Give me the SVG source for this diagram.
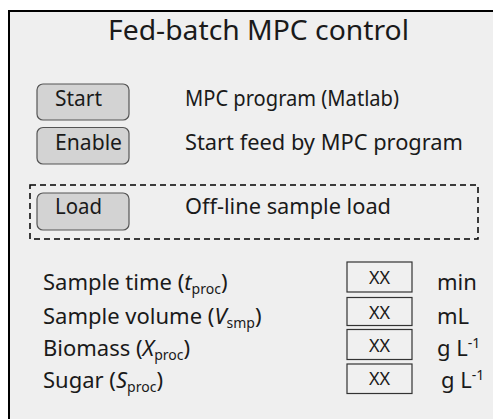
<svg xmlns="http://www.w3.org/2000/svg" width="493" height="419" viewBox="0 0 493 419">
<style>
  text { font-family: "Noto Sans", "Open Sans", sans-serif; fill: #1a1a1a; }
  .title { font-size: 28px; }
  .body { font-size: 22px; }
  .lbl { font-size: 22px; }
  .sub { font-size: 14px; }
  .xx { font-size: 18px; text-anchor: middle; }
  .btn { fill: #d3d3d3; stroke: #555; stroke-width: 1.2; }
  .box { fill: #f0f0f0; stroke: #333; stroke-width: 1.2; }
  .it { font-style: italic; }
</style>
<rect x="0" y="0" width="493" height="419" fill="#ffffff"/>
<rect id="panel" x="9" y="11" width="500" height="430" fill="#efefef" stroke="#000" stroke-width="2"/>
<g id="title"><text class="title" x="108" y="39.5" textLength="301" lengthAdjust="spacingAndGlyphs">Fed-batch MPC control</text></g>
<g id="connectors"/>
<g id="start">
  <rect class="btn" x="37" y="84" width="92" height="36" rx="6"/>
  <text class="body" x="55" y="106" textLength="47" lengthAdjust="spacingAndGlyphs">Start</text>
  <text class="body" x="185" y="106" textLength="214" lengthAdjust="spacingAndGlyphs">MPC program (Matlab)</text>
</g>
<g id="enable">
  <rect class="btn" x="37" y="127.5" width="92" height="36.5" rx="6"/>
  <text class="body" x="55" y="149.5" textLength="67" lengthAdjust="spacingAndGlyphs">Enable</text>
  <text class="body" x="185" y="149.5" textLength="278" lengthAdjust="spacingAndGlyphs">Start feed  by MPC program</text>
</g>
<g id="load-group">
  <rect x="30" y="185" width="448" height="54" fill="none" stroke="#000" stroke-width="1.5" stroke-dasharray="6 4"/>
  <g id="load">
    <rect class="btn" x="37" y="193" width="92" height="37" rx="6"/>
    <text class="body" x="55" y="214" textLength="47" lengthAdjust="spacingAndGlyphs">Load</text>
  </g>
  <text class="body" x="185" y="214" textLength="206" lengthAdjust="spacingAndGlyphs">Off-line sample load</text>
</g>
<g id="row-time">
  <text class="lbl" x="43" y="290">Sample time (<tspan class="it">t</tspan><tspan class="sub" dy="4">proc</tspan><tspan dy="-4">)</tspan></text>
  <rect class="box" x="347" y="262" width="65" height="30"/>
  <text class="xx" x="379.5" y="283.5">XX</text>
  <text class="lbl" x="437" y="290">min</text>
</g>
<g id="row-volume">
  <text class="lbl" x="43" y="323.5">Sample volume (<tspan class="it">V</tspan><tspan class="sub" dy="4">smp</tspan><tspan dy="-4">)</tspan></text>
  <rect class="box" x="347" y="297.5" width="65" height="28"/>
  <text class="xx" x="379.5" y="318.5">XX</text>
  <text class="lbl" x="437" y="323.5">mL</text>
</g>
<g id="row-biomass">
  <text class="lbl" x="43" y="356">Biomass (<tspan class="it">X</tspan><tspan class="sub" dy="4">proc</tspan><tspan dy="-4">)</tspan></text>
  <rect class="box" x="347" y="329.5" width="65" height="30"/>
  <text class="xx" x="379.5" y="351.5">XX</text>
  <text class="lbl" x="437" y="356">g L<tspan class="sub" dy="-8">-1</tspan></text>
</g>
<g id="row-sugar">
  <text class="lbl" x="43" y="388">Sugar (<tspan class="it">S</tspan><tspan class="sub" dy="4">proc</tspan><tspan dy="-4">)</tspan></text>
  <rect class="box" x="347" y="364" width="65" height="29.5"/>
  <text class="xx" x="379.5" y="385">XX</text>
  <text class="lbl" x="441" y="388">g L<tspan class="sub" dy="-8">-1</tspan></text>
</g>
</svg>
